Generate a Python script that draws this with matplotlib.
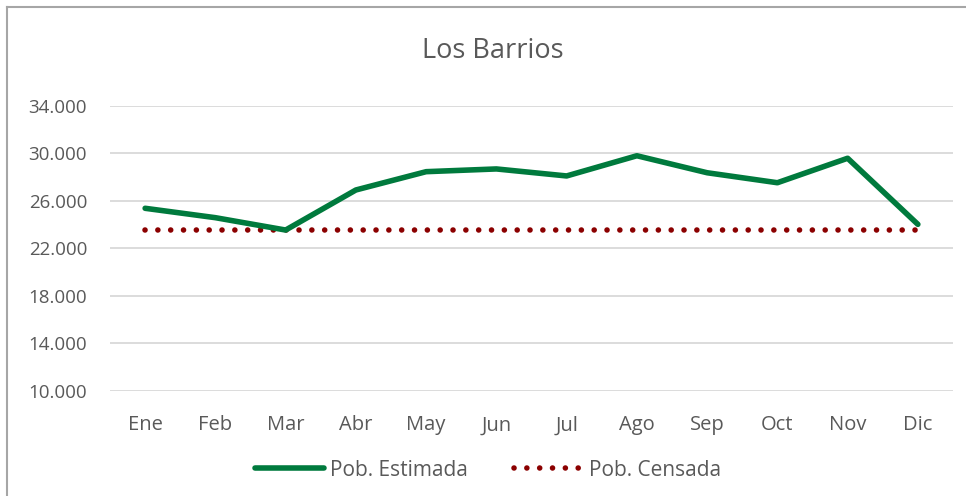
import matplotlib.pyplot as plt
from matplotlib.lines import Line2D

meses = ['Ene', 'Feb', 'Mar', 'Abr', 'May', 'Jun', 'Jul', 'Ago', 'Sep', 'Oct', 'Nov', 'Dic']
pob_estimada = [25370, 24580, 23540, 26910, 28450, 28680, 28090, 29790, 28360, 27520, 29580, 24020]
pob_censada = [23520] * 12
y_ticks = [10000, 14000, 18000, 22000, 26000, 30000, 34000]

plt.rcParams['font.family'] = ['Open Sans', 'DejaVu Sans']

W, H = 966, 496
fig = plt.figure(figsize=(W / 100, H / 100), dpi=100)
ax = fig.add_axes([110 / W, 1 - 391 / H, (953 - 110) / W, (391 - 105.7) / H])

x = list(range(len(meses)))
ax.plot(x, pob_estimada, color='#007A3D', lw=4, solid_capstyle='round', zorder=3)
ax.plot(x, pob_censada, color='#8B0000', lw=4, linestyle=(0, (0.01, 2.3)),
        dash_capstyle='round', zorder=2)

ax.set_xlim(-0.5, len(meses) - 0.5)
ax.set_ylim(10000, 34000)
ax.set_yticks(y_ticks)
ax.set_yticklabels([f'{v:,}'.replace(',', '.') for v in y_ticks])
ax.set_xticks(x)
ax.set_xticklabels(meses)
ax.tick_params(length=0, colors='#595959')
ax.tick_params(axis='y', labelsize=13.5, pad=16.5)
ax.tick_params(axis='x', labelsize=14.5, pad=17.5)
ax.grid(axis='y', color='#d9d9d9', lw=1.3)
ax.set_axisbelow(True)
for s in ax.spines.values():
    s.set_visible(False)

fig.text(493 / W, 1 - 51 / H, 'Los Barrios', ha='center', va='center',
         fontsize=19.5, color='#595959')

# borde del gráfico
fig.add_artist(Line2D([6.5 / W, 6.5 / W], [0, 1 - 7 / H], color='#a6a6a6', lw=1.5))
fig.add_artist(Line2D([6.5 / W, 1], [1 - 7 / H, 1 - 7 / H], color='#a6a6a6', lw=1.5))

handles = [
    Line2D([], [], color='#007A3D', lw=4, solid_capstyle='round'),
    Line2D([], [], color='#8B0000', lw=4, linestyle=(0, (0.01, 2.3)), dash_capstyle='round'),
]
fig.legend(handles, ['Pob. Estimada', 'Pob. Censada'], loc='center',
           bbox_to_anchor=(488 / W, 1 - 470 / H), ncol=2, frameon=False,
           fontsize=15, labelcolor='#595959', handlelength=3.3,
           handletextpad=0.3, columnspacing=2.2)

fig.savefig('out.png', dpi=100)
